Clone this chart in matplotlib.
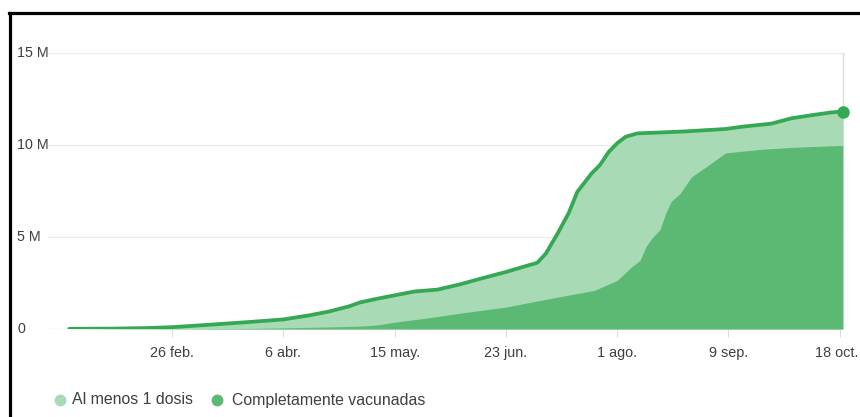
import matplotlib
matplotlib.use("Agg")
import matplotlib.pyplot as plt
import matplotlib.dates as mdates
import matplotlib.transforms as mtransforms
from matplotlib.lines import Line2D
import datetime as dt

plt.rcParams['font.family'] = ['Liberation Sans', 'DejaVu Sans']

# ---- data (millions of people) ----
first_dose_dates = [
    "2021-01-21", "2021-02-05", "2021-02-17", "2021-02-26", "2021-03-11", "2021-03-25",
    "2021-04-06", "2021-04-15", "2021-04-22", "2021-04-29", "2021-05-03", "2021-05-09",
    "2021-05-15", "2021-05-22", "2021-05-30", "2021-06-07", "2021-06-14", "2021-06-23",
    "2021-06-28", "2021-07-04", "2021-07-07", "2021-07-11", "2021-07-15", "2021-07-18",
    "2021-07-23", "2021-07-26", "2021-07-29", "2021-08-01", "2021-08-04", "2021-08-08",
    "2021-08-16", "2021-08-25", "2021-09-08", "2021-09-14", "2021-09-24", "2021-10-01",
    "2021-10-09", "2021-10-15", "2021-10-19",
]
first_dose_millions = [
    0.01, 0.02, 0.05, 0.10, 0.23, 0.38,
    0.52, 0.74, 0.95, 1.23, 1.45, 1.65,
    1.83, 2.04, 2.14, 2.43, 2.73, 3.10,
    3.33, 3.60, 4.10, 5.16, 6.30, 7.45,
    8.45, 8.92, 9.62, 10.10, 10.45, 10.63,
    10.68, 10.74, 10.87, 11.00, 11.16, 11.45,
    11.64, 11.77, 11.82,
]

full_dates = [
    "2021-01-21", "2021-02-26", "2021-03-25", "2021-04-06", "2021-04-22", "2021-05-02",
    "2021-05-09", "2021-05-15", "2021-05-27", "2021-06-07", "2021-06-23", "2021-07-08",
    "2021-07-24", "2021-08-01", "2021-08-06", "2021-08-09", "2021-08-11", "2021-08-13",
    "2021-08-16", "2021-08-18", "2021-08-20", "2021-08-23", "2021-08-27", "2021-09-01",
    "2021-09-08", "2021-09-20", "2021-10-01", "2021-10-19",
]
full_millions = [
    0.0, 0.01, 0.03, 0.06, 0.11, 0.15,
    0.22, 0.37, 0.61, 0.86, 1.19, 1.64,
    2.10, 2.64, 3.37, 3.73, 4.45, 4.91,
    5.40, 6.30, 6.95, 7.35, 8.26, 8.80,
    9.57, 9.76, 9.87, 9.98,
]

y_ticks = [0, 5, 10, 15]
y_tick_labels = ["0", "5 M", "10 M", "15 M"]
x_tick_dates = ["2021-02-26", "2021-04-06", "2021-05-15", "2021-06-23",
                "2021-08-01", "2021-09-09", "2021-10-18"]
x_tick_labels = ["26 feb.", "6 abr.", "15 may.", "23 jun.", "1 ago.", "9 sep.", "18 oct."]
legend_labels = ["Al menos 1 dosis", "Completamente vacunadas"]

LIGHT = "#a8dab5"
DARK = "#5bb974"
LINE = "#34a853"
GRID = "#ebebeb"
TEXT = "#3c4043"

def to_dates(lst):
    return [dt.datetime.strptime(s, "%Y-%m-%d") for s in lst]

fd = to_dates(first_dose_dates)
cd = to_dates(full_dates)
xt = to_dates(x_tick_dates)

W, H = 860, 417
fig = plt.figure(figsize=(W / 100, H / 100), dpi=100)
fig.patch.set_facecolor("white")

ax_left, ax_right, ax_top, ax_bottom = 48, 845, 53, 329
ax = fig.add_axes([ax_left / W, 1 - ax_bottom / H, (ax_right - ax_left) / W, (ax_bottom - ax_top) / H])

ref = mdates.date2num(dt.datetime(2021, 2, 26))
px_per_day = 111.3 / 39
ax.set_xlim(ref + (ax_left - 172) / px_per_day, ref + (ax_right - 172) / px_per_day)
ax.set_ylim(0, 15)

for s in ax.spines.values():
    s.set_visible(False)

for v in y_ticks:
    ax.axhline(v, color=GRID, lw=1.0, zorder=0)

# hover line at last point
ax.axvline(fd[-1], color="#dadce0", lw=1.0, zorder=0.5)

ax.fill_between(fd, first_dose_millions, 0, color=LIGHT, lw=0, zorder=1)
ax.fill_between(cd, full_millions, 0, color=DARK, lw=0, zorder=2)
ax.plot(fd, first_dose_millions, color=LINE, lw=2.7, zorder=3, solid_capstyle="round")
ax.plot([fd[-1]], [first_dose_millions[-1]], marker="o", ms=8, color=LINE, zorder=4, clip_on=False)

ax.set_yticks([])
ax.set_xticks(xt)
ax.set_xticklabels(x_tick_labels)
ax.tick_params(axis="x", length=5.8, width=0.8, color="#dadce0", pad=6.5,
               labelsize=10.4, labelcolor=TEXT)
last = ax.get_xticklabels()[-1]
last.set_transform(last.get_transform() + mtransforms.ScaledTranslation(-3 / 100, 0, fig.dpi_scale_trans))

trans = mtransforms.blended_transform_factory(fig.transFigure, ax.transData)
for v, lab in zip(y_ticks, y_tick_labels):
    ax.text(17 / W, v, lab, transform=trans, ha="left", va="center",
            fontsize=10.3, color=TEXT, clip_on=False)

# legend
ly = 1 - 400 / H
fig.add_artist(Line2D([60 / W], [ly], marker="o", ms=7.5, color=LIGHT, lw=0, transform=fig.transFigure))
fig.text(72 / W, ly, legend_labels[0], ha="left", va="center", fontsize=11.4, color=TEXT)
fig.add_artist(Line2D([217 / W], [ly], marker="o", ms=7.5, color=DARK, lw=0, transform=fig.transFigure))
fig.text(232 / W, ly, legend_labels[1], ha="left", va="center", fontsize=11.4, color=TEXT)

# screenshot frame
fig.add_artist(Line2D([10 / W, 10 / W], [0, 1 - 13 / H], color="black", lw=2.3, transform=fig.transFigure))
fig.add_artist(Line2D([9 / W, 1], [1 - 13 / H, 1 - 13 / H], color="black", lw=2.3, transform=fig.transFigure))

fig.savefig("out.png", dpi=100, facecolor="white")
